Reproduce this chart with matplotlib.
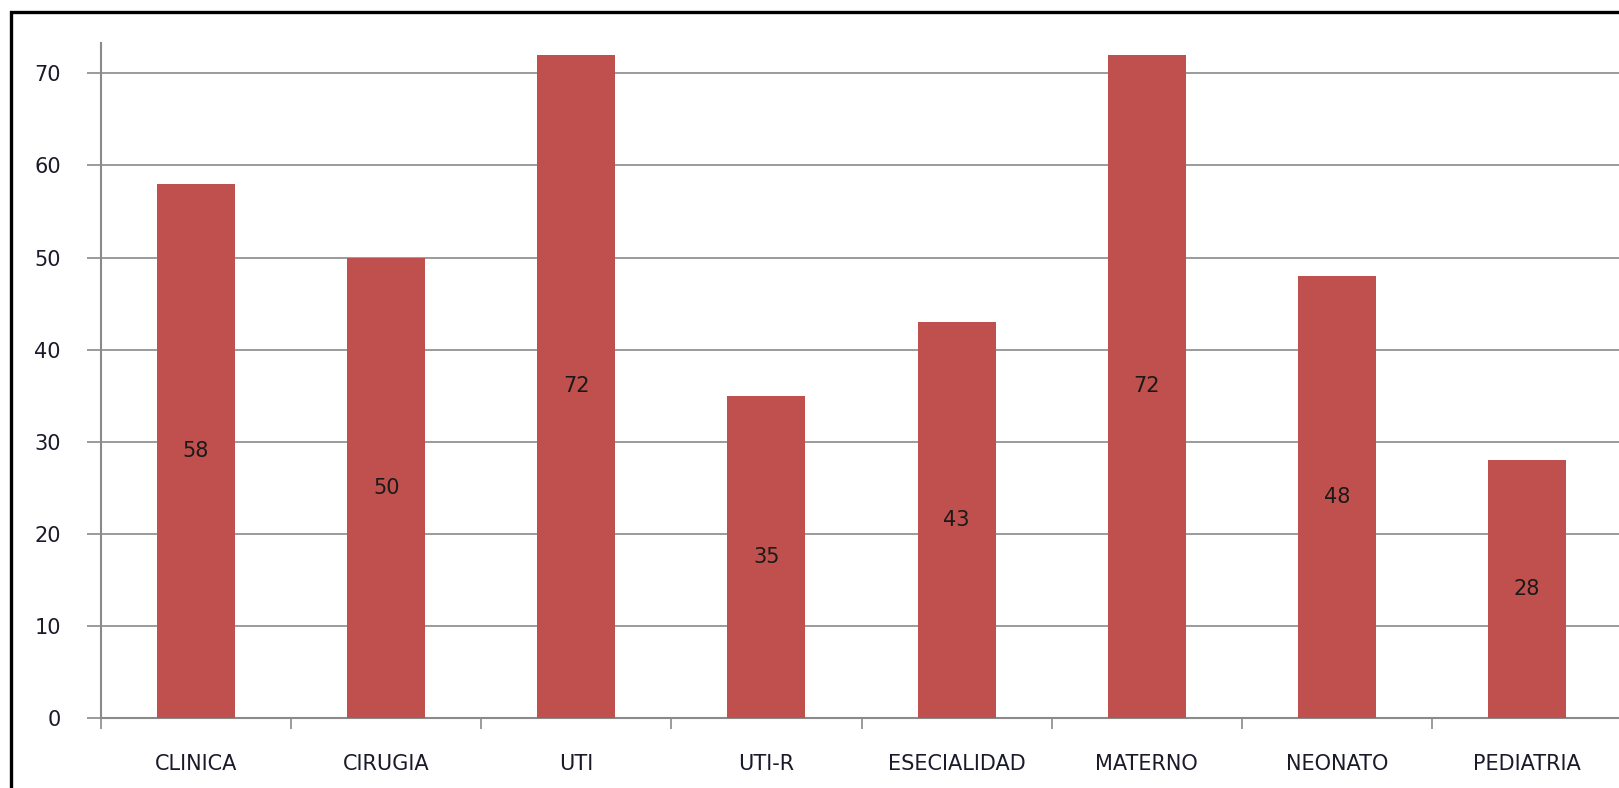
import matplotlib
matplotlib.use("Agg")
import matplotlib.pyplot as plt
from matplotlib.patches import Rectangle
import numpy as np

categories = ["CLINICA", "CIRUGIA", "UTI", "UTI-R", "ESECIALIDAD", "MATERNO", "NEONATO", "PEDIATRIA"]
values = [58, 50, 72, 35, 43, 72, 48, 28]
yticks = [0, 10, 20, 30, 40, 50, 60, 70]

W, H, DPI = 1619, 788, 100
fig = plt.figure(figsize=(W / DPI, H / DPI), dpi=DPI)
fig.patch.set_facecolor("white")

# outer chart frame (runs off the right and bottom edges)
frame_top = 1 - 11.5 / H
fig.patches.append(Rectangle((11 / W, -0.2), 1.5, frame_top + 0.2,
                             transform=fig.transFigure, fill=False,
                             edgecolor="black", linewidth=2.4, zorder=0))

left, right, bottom, top = 101, 1622, 718, 43
ax = fig.add_axes([left / W, (H - bottom) / H, (right - left) / W, (bottom - top) / H])
ax.set_facecolor("none")

x = np.arange(len(categories))
bar_color = "#C0504D"
ax.bar(x, values, width=0.41, color=bar_color, zorder=3)

for xi, v in zip(x, values):
    ax.text(xi, v / 2, str(v), ha="center", va="center", fontsize=15,
            color="#1a1a1a", zorder=4)

ax.set_xlim(-0.5, len(categories) - 0.5)
ax.set_ylim(0, 73.3)

grid_c = "#8a8a8a"
ax.set_yticks(yticks)
ax.yaxis.grid(True, color=grid_c, linewidth=1.2, zorder=1)
ax.set_axisbelow(True)
ax.tick_params(axis="y", direction="out", length=10, width=1.2, color=grid_c,
               pad=19, labelsize=15, labelcolor="#1a1a2a")

ax.set_xticks(x)
ax.set_xticklabels(categories)
ax.set_xticks(np.arange(len(categories) + 1) - 0.5, minor=True)
ax.tick_params(axis="x", which="major", length=0, pad=26, labelsize=15,
               labelcolor="#1a1a2a")
ax.tick_params(axis="x", which="minor", direction="out", length=8, width=1.2,
               color=grid_c)

for s in ["top", "right"]:
    ax.spines[s].set_visible(False)
for s in ["left", "bottom"]:
    ax.spines[s].set_color(grid_c)
    ax.spines[s].set_linewidth(1.5)

fig.savefig("out.png", dpi=DPI)
